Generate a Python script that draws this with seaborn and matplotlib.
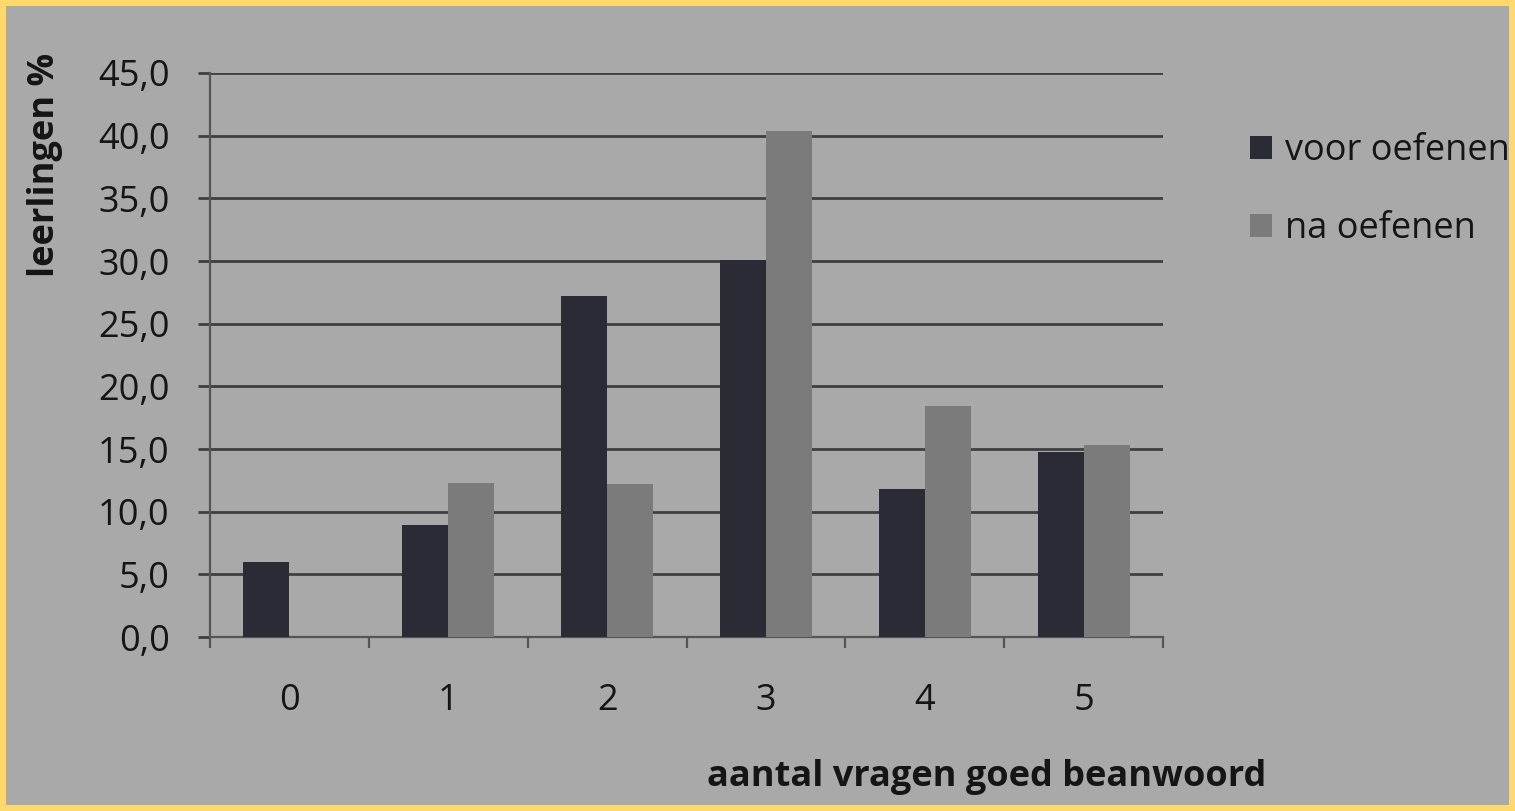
import pandas as pd
import seaborn as sns
import matplotlib.pyplot as plt
from matplotlib.patches import Rectangle
from matplotlib.ticker import FixedLocator, FuncFormatter

categories = ["0", "1", "2", "3", "4", "5"]
voor_oefenen = [6.0, 8.9, 27.2, 30.1, 11.8, 14.8]
na_oefenen = [0.0, 12.3, 12.2, 40.4, 18.4, 15.3]
series_names = ["voor oefenen", "na oefenen"]

BG = "#a9a9a9"
BORDER = "#ffd96e"
INK = "#151515"
GRID = "#3f3f3f"

df = pd.DataFrame({
    "aantal": categories * 2,
    "pct": voor_oefenen + na_oefenen,
    "serie": [series_names[0]] * len(categories) + [series_names[1]] * len(categories),
})

sns.set_style("white")
plt.rcParams["font.family"] = ["Open Sans", "DejaVu Sans"]

fig = plt.figure(figsize=(15.15, 8.11), dpi=100, facecolor=BORDER)
# grey photo background inside the yellow frame
bg = Rectangle((6 / 1515, 6 / 811), 1 - 12 / 1515, 1 - 12 / 811,
               transform=fig.transFigure, facecolor=BG, edgecolor="none", zorder=-5)
fig.patches.append(bg)

ax = fig.add_axes([0.1386, 0.2145, 0.6291, 0.6955])
ax.set_facecolor(BG)

sns.barplot(data=df, x="aantal", y="pct", hue="serie", order=categories,
            hue_order=series_names, palette=["#2b2b36", "#7b7b7b"],
            width=0.58, ax=ax, saturation=1, zorder=3, linewidth=0,
            edgecolor="none")

ax.set_ylim(0, 45)
ax.set_xlim(-0.5, 5.5)
ax.yaxis.set_major_locator(FixedLocator([i * 5 for i in range(10)]))
ax.yaxis.set_major_formatter(FuncFormatter(lambda v, p: f"{v:.1f}".replace(".", ",")))
ax.grid(axis="y", color=GRID, linewidth=2, zorder=0)
ax.set_axisbelow(True)

for s in ["top", "right"]:
    ax.spines[s].set_visible(False)
for s in ["left", "bottom"]:
    ax.spines[s].set_color("#555555")
    ax.spines[s].set_linewidth(1.6)

ax.tick_params(axis="y", length=9, width=2, color=GRID, pad=20,
               labelsize=26, labelcolor=INK, left=True)
ax.tick_params(axis="x", which="major", length=0, pad=33,
               labelsize=26, labelcolor=INK)
ax.xaxis.set_minor_locator(FixedLocator([i - 0.5 for i in range(7)]))
ax.tick_params(axis="x", which="minor", length=8, width=1.6, color="#555555",
               bottom=True, direction="out")

ax.set_xlabel("")
ax.set_ylabel("")
fig.text(0.030, 0.935, "leerlingen %", rotation=90, ha="center", va="top",
         fontsize=26, fontweight="bold", color=INK)
fig.text(0.8355, 0.042, "aantal vragen goed beanwoord", ha="right", va="center",
         fontsize=26, fontweight="bold", color=INK)

handles, labels = ax.get_legend_handles_labels()
ax.legend(handles, labels, loc="upper left", bbox_to_anchor=(0.825, 0.836),
          bbox_transform=fig.transFigure, frameon=False, fontsize=26,
          handlelength=0.62, handleheight=0.62, handletextpad=0.35,
          labelspacing=1.17, labelcolor=INK, borderaxespad=0, borderpad=0)

fig.savefig("out.png", dpi=100, facecolor=BORDER)
